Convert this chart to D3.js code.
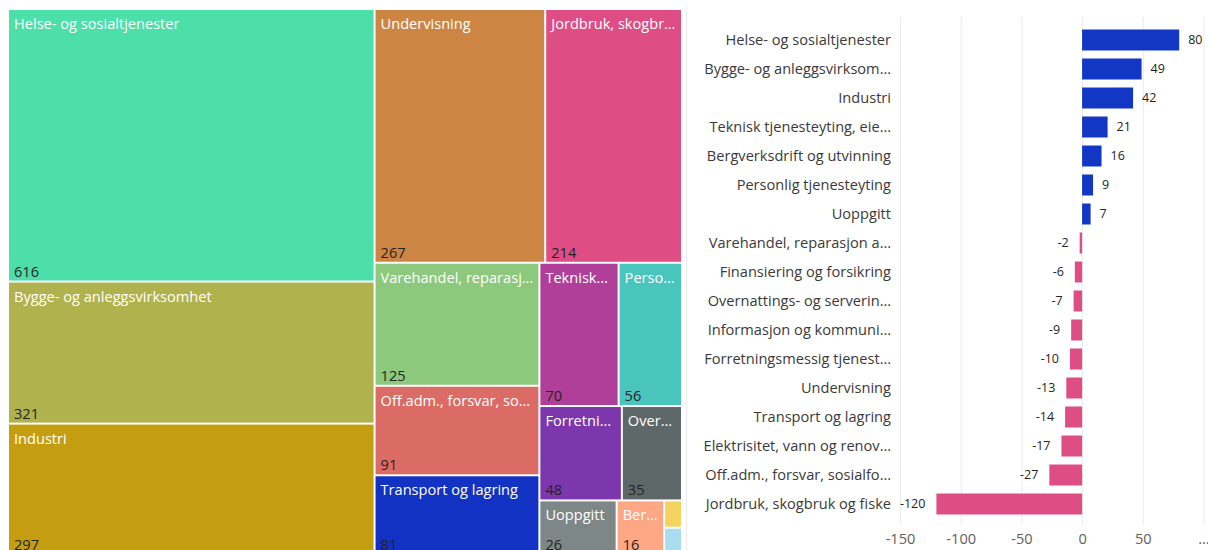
<!DOCTYPE html>
<html>
<head>
<meta charset="utf-8">
<script src="https://cdn.jsdelivr.net/npm/d3@7"></script>
<style>
  body { margin: 0; background: #fff; font-family: "Open Sans", "Segoe UI", sans-serif; overflow: hidden; }
  svg { display: block; }
</style>
</head>
<body>
<svg id="chart" width="1208" height="550"></svg>
<script>
// treemap: antall per næring
var tmNames = ["Helse- og sosialtjenester", "Bygge- og anleggsvirksomhet", "Industri", "Undervisning",
  "Jordbruk, skogbruk og fiske", "Varehandel, reparasjon av motorvogner", "Off.adm., forsvar, sosialforsikring",
  "Transport og lagring", "Teknisk tjenesteyting, eiendomsdrift", "Personlig tjenesteyting",
  "Forretningsmessig tjenesteyting", "Overnattings- og serveringsvirksomhet", "Uoppgitt",
  "Bergverksdrift og utvinning", "Finansiering og forsikring", "Informasjon og kommunikasjon"];
var tmValues = [616, 321, 297, 267, 214, 125, 91, 81, 70, 56, 48, 35, 26, 16, 3, 3];
var tmColors = ["#4CDFA9", "#B0B24E", "#C49E10", "#CD8543", "#DE4D84", "#8DC97C", "#DB6B65",
  "#1232C4", "#B03F9A", "#4AC5BE", "#7B37AB", "#5F6868", "#7E8787", "#FEA785", "#F5D360", "#A8DDF0"];

// stolpediagram: endring per næring
var barNames = ["Helse- og sosialtjenester", "Bygge- og anleggsvirksomhet", "Industri",
  "Teknisk tjenesteyting, eiendomsdrift", "Bergverksdrift og utvinning", "Personlig tjenesteyting",
  "Uoppgitt", "Varehandel, reparasjon av motorvogner", "Finansiering og forsikring",
  "Overnattings- og serveringsvirksomhet", "Informasjon og kommunikasjon",
  "Forretningsmessig tjenesteyting", "Undervisning", "Transport og lagring",
  "Elektrisitet, vann og renovasjon", "Off.adm., forsvar, sosialforsikring", "Jordbruk, skogbruk og fiske"];
var barValues = [80, 49, 42, 21, 16, 9, 7, -2, -6, -7, -9, -10, -13, -14, -17, -27, -120];
var xTicks = [-150, -100, -50, 0, 50, 100];

var svg = d3.select("#chart");

// cut text with an ellipsis until it fits
function fit(sel, maxW) {
  sel.each(function() {
    var t = d3.select(this), full = t.text();
    if (this.getComputedTextLength() <= maxW) return;
    var n = full.length;
    while (n > 0) {
      n--;
      t.text(full.slice(0, n).replace(/\s+$/, "") + "…");
      if (this.getComputedTextLength() <= maxW) break;
    }
  });
}

// ---------- treemap ----------
var tm = {"left": 9, "top": 10, "w": 672, "h": 544};
var root = d3.hierarchy({children: tmNames.map(function(d, i){ return {name: d, value: tmValues[i], color: tmColors[i]}; })})
  .sum(function(d){ return d.value || 0; })
  .sort(function(a, b){ return b.value - a.value; });

d3.treemap().size([tm.w, tm.h]).paddingInner(2)(root);

var cells = svg.append("g")
    .attr("transform", "translate(" + tm.left + "," + tm.top + ")")
  .selectAll("g")
  .data(root.leaves())
  .enter().append("g")
    .attr("transform", function(d){ return "translate(" + d.x0 + "," + d.y0 + ")"; });

cells.append("rect")
  .attr("width", function(d){ return d.x1 - d.x0; })
  .attr("height", function(d){ return d.y1 - d.y0; })
  .style("fill", function(d){ return d.data.color; });

var big = cells.filter(function(d){ return d.x1 - d.x0 > 30 && d.y1 - d.y0 > 40; });

big.append("text")
  .attr("x", 5)
  .attr("y", 19)
  .style("font-size", "14.6px")
  .style("fill", "#fff")
  .text(function(d){ return d.data.name; })
  .each(function(d){ fit(d3.select(this), d.x1 - d.x0 - 8); });

big.append("text")
  .attr("x", 5)
  .attr("y", function(d){ return d.y1 - d.y0 - 4; })
  .style("font-size", "14.6px")
  .style("fill", "#252423")
  .text(function(d){ return d.data.value; });

// separator
svg.append("line")
  .attr("x1", 686.5).attr("x2", 686.5)
  .attr("y1", 7).attr("y2", 550)
  .style("stroke", "#EEEEEE")
  .style("stroke-width", 1.5);

// ---------- bar chart ----------
var x = d3.scaleLinear()
  .domain([-150, 100])
  .range([900, 1203.5]);

var y = d3.scaleBand()
  .domain(barNames)
  .range([25.5, 518.5])
  .paddingInner(0.276)
  .paddingOuter(0.138);

var grid = svg.append("g")
  .attr("transform", "translate(0,17)")
  .call(d3.axisBottom(x).tickValues(xTicks).tickSize(508).tickFormat(""));
grid.select(".domain").remove();
grid.selectAll("line").style("stroke", "#EAEAEA");

var xAxis = svg.append("g")
  .attr("transform", "translate(0,528)")
  .call(d3.axisBottom(x).tickValues(xTicks).tickSize(0)
    .tickFormat(function(d){ return d == 100 ? "…" : d; }));
xAxis.select(".domain").remove();
xAxis.selectAll("text")
  .attr("dy", "0.9em")
  .style("font-family", "'Open Sans', sans-serif")
  .style("font-size", "14.6px")
  .style("fill", "#605E5C");

var yAxis = svg.append("g")
  .attr("transform", "translate(891,0)")
  .call(d3.axisLeft(y).tickSize(0).tickPadding(0));
yAxis.select(".domain").remove();
yAxis.selectAll("text")
  .style("font-family", "'Open Sans', sans-serif")
  .style("font-size", "14.6px")
  .style("fill", "#3B3A39")
  .call(fit, 188);

svg.selectAll(".bar")
  .data(barValues)
  .enter().append("rect")
    .attr("class", "bar")
    .attr("x", function(d){ return x(Math.min(0, d)); })
    .attr("y", function(d, i){ return y(barNames[i]); })
    .attr("width", function(d){ return Math.abs(x(d) - x(0)); })
    .attr("height", y.bandwidth())
    .style("fill", function(d){ return d >= 0 ? "#1237C4" : "#DE4D84"; });

svg.selectAll(".val")
  .data(barValues)
  .enter().append("text")
    .attr("class", "val")
    .attr("x", function(d){ return d >= 0 ? x(d) + 9 : Math.max(x(d) - 11, 906); })
    .attr("y", function(d, i){ return y(barNames[i]) + y.bandwidth() / 2; })
    .attr("dy", "0.35em")
    .style("text-anchor", function(d){ return d >= 0 ? "start" : "end"; })
    .style("font-size", "12.5px")
    .style("fill", "#252423")
    .text(function(d){ return d; });
</script>
</body>
</html>
